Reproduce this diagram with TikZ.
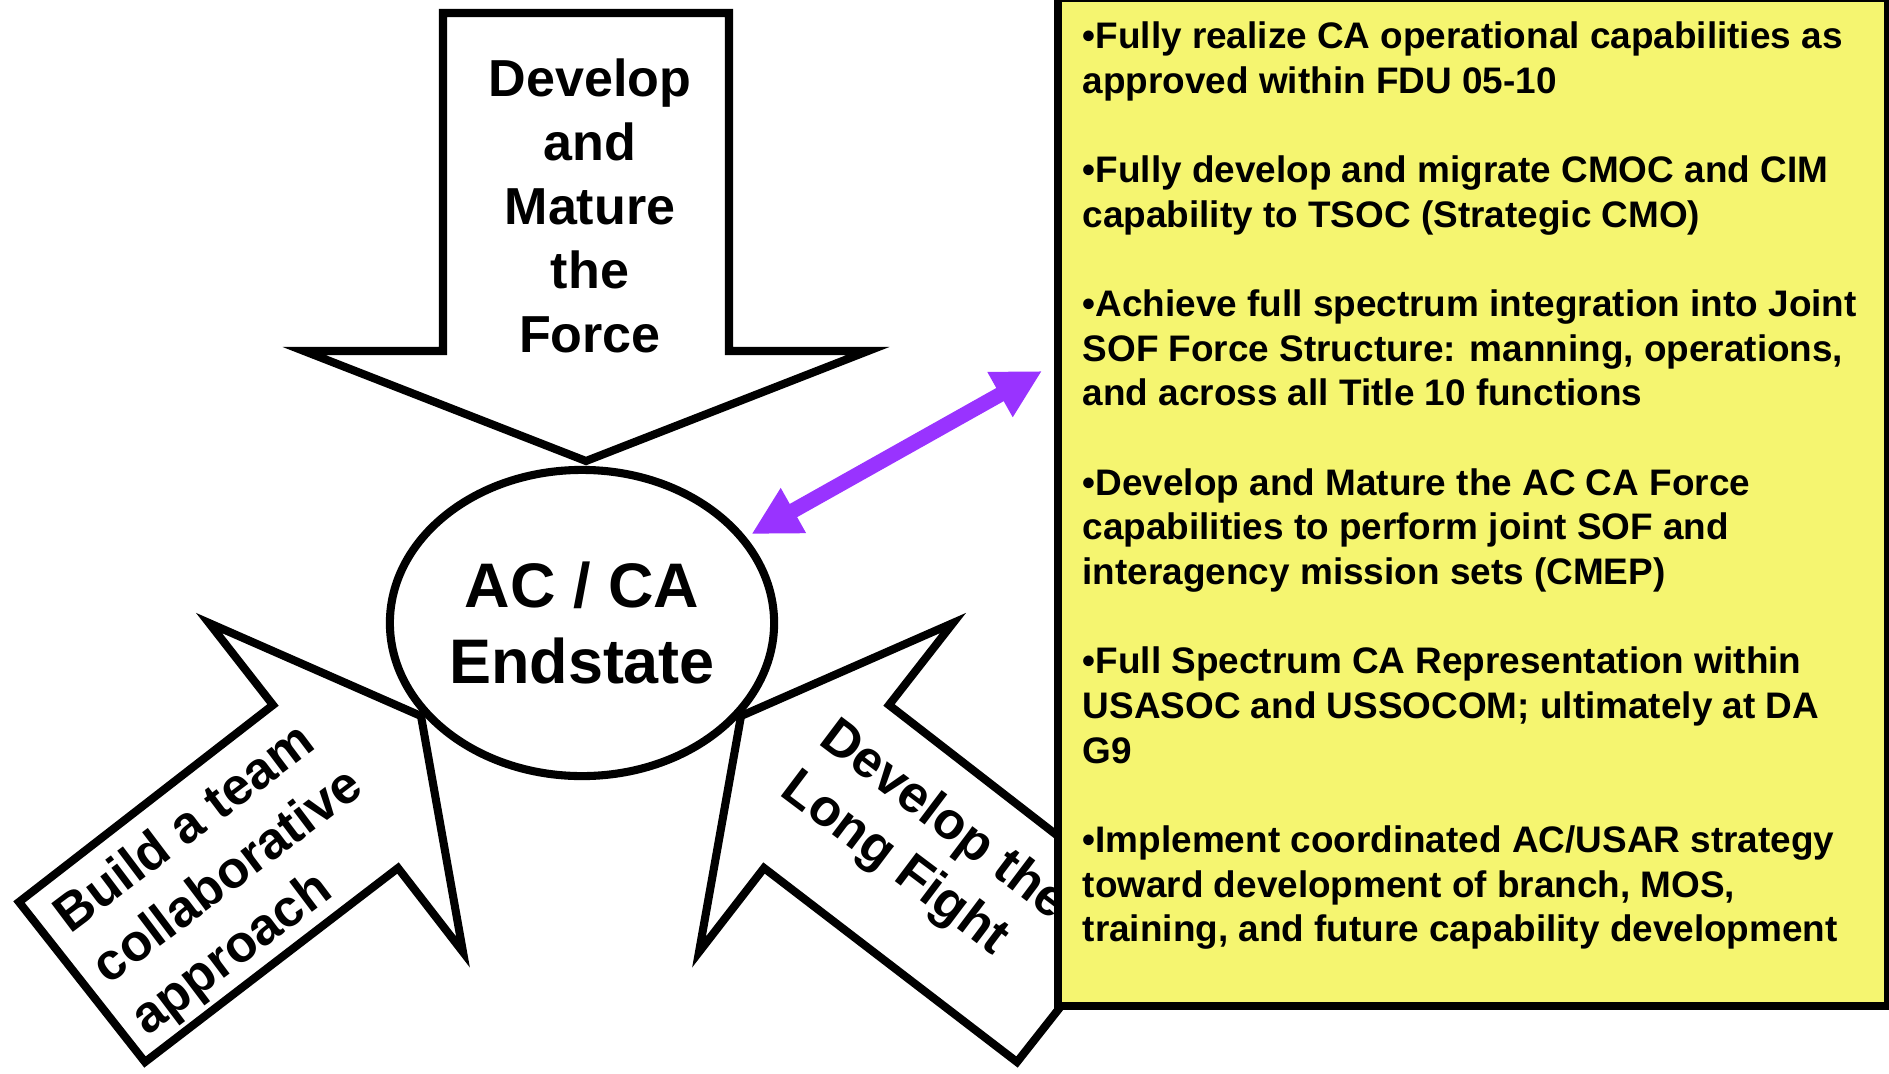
\documentclass[tikz,border=0pt]{standalone}
\usepackage{fontspec}
\setmainfont{Liberation Sans}
\usepackage{tikz}
\usetikzlibrary{arrows.meta,shapes.geometric}
\usepackage{xcolor}
\definecolor{noteyellow}{RGB}{245,245,112}
\definecolor{linkpurple}{RGB}{153,51,255}

\begin{document}
\begin{tikzpicture}[x=0.01cm, y=-0.01cm,
    bigarrow/.style={draw=black, line width=2.3pt, fill=white},
    arrowtext/.style={inner sep=0pt, font=\bfseries\fontsize{14.8pt}{18.2pt}\selectfont},
    endstate/.style={ellipse, draw=black, line width=2.3pt, fill=white, inner sep=0pt,
        minimum width=3.84cm, minimum height=3.06cm, align=center,
        font=\bfseries\fontsize{17.9pt}{21.6pt}\selectfont},
    notebox/.style={draw=black, line width=2.3pt, fill=noteyellow, inner sep=0pt,
        minimum width=8.30cm, minimum height=10.08cm},
    notetext/.style={align=left, inner sep=0pt, font=\bfseries\fontsize{10.5pt}{12.7pt}\selectfont},
    link/.style={draw=linkpurple, line width=4.3pt, >={Triangle[length=13.7pt,width=13.7pt]}, <->}]
    \useasboundingbox (0,0) rectangle (1889,1073);

    % Three big arrows pointing at the end state
    \draw[bigarrow] (443,13) -- (729,13) -- (729,351) -- (868,351) -- (586,461) -- (304,351) -- (443,351) -- cycle;
    \node[arrowtext, align=center] (forcelbl) at (590,206) {Develop\\and\\Mature\\the\\Force};

    \draw[bigarrow] (209,623) -- (421,716) -- (463,952) -- (398,868) -- (145,1062) -- (19,902) -- (273,705) -- cycle;
    \node[arrowtext, align=left, rotate=37] (teamlbl) at (229,878) {Build a team\\collaborative\\approach};

    \draw[bigarrow] (953,623) -- (741,716) -- (699,952) -- (764,868) -- (1017,1062) -- (1143,902) -- (889,705) -- cycle;
    \node[arrowtext, align=left, rotate=-37] (fightlbl) at (924,847) {Develop the\\Long Fight};

    % End state
    \node[endstate] (endst) at (582,623) {AC / CA\\Endstate};

    % Goals box
    \node[notebox] (goals) at (1473,502) {};
    \node[notetext, anchor=north west] (goallist) at (1082,21) {%
        •Fully realize CA operational capabilities as\\
        approved within FDU 05-10\\[12.7pt]
        •Fully develop and migrate CMOC and CIM\\
        capability to TSOC (Strategic CMO)\\[12.7pt]
        •Achieve full spectrum integration into Joint\\
        SOF Force Structure: manning, operations,\\
        and across all Title 10 functions\\[12.7pt]
        •Develop and Mature the AC CA Force\\
        capabilities to perform joint SOF and\\
        interagency mission sets (CMEP)\\[12.7pt]
        •Full Spectrum CA Representation within\\
        USASOC and USSOCOM; ultimately at DA\\
        G9\\[12.7pt]
        •Implement coordinated AC/USAR strategy\\
        toward development of branch, MOS,\\
        training, and future capability development};

    \coordinate (goalpin) at (1042,371);
    \draw[link] ([shift={(6,-2)}]endst.28) -- (goalpin);
\end{tikzpicture}
\end{document}
